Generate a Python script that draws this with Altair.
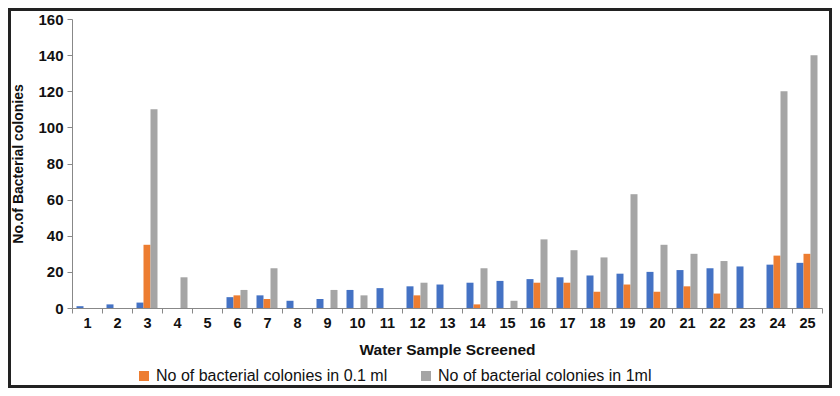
import altair as alt
import pandas as pd

samples = [str(i) for i in range(1, 26)]
series = ["Water Sample", "No of bacterial colonies in 0.1 ml", "No of bacterial colonies in 1ml"]
colors = ["#4472C4", "#ED7D31", "#A5A5A5"]

blue = [1, 2, 3, 0, 0, 6, 7, 4, 5, 10, 11, 12, 13, 14, 15, 16, 17, 18, 19, 20, 21, 22, 23, 24, 25]
orange = [0, 0, 35, 0, 0, 7, 5, 0, 0, 0, 0, 7, 0, 2, 0, 14, 14, 9, 13, 9, 12, 8, 0, 29, 30]
gray = [0, 0, 110, 17, 0, 10, 22, 0, 10, 7, 0, 14, 0, 22, 4, 38, 32, 28, 63, 35, 30, 26, 0, 120, 140]
y_ticks = [0, 20, 40, 60, 80, 100, 120, 140, 160]

rows = []
for name, vals in zip(series, [blue, orange, gray]):
    for s, v in zip(samples, vals):
        rows.append({"sample": s, "series": name, "value": v})
df = pd.DataFrame(rows)

FONT = "Liberation Sans, Arial, sans-serif"

bars = alt.Chart(df).mark_bar().encode(
    x=alt.X(
        "sample:N",
        sort=samples,
        scale=alt.Scale(paddingInner=0, paddingOuter=0),
        axis=alt.Axis(
            title="Water Sample Screened",
            tickBand="extent",
            labelAngle=0,
            labelFont=FONT,
            labelFontSize=14.5,
            labelFontWeight="bold",
            labelColor="#111",
            labelPadding=3,
            tickSize=5,
            tickColor="#888",
            domainColor="#888",
            titleFont=FONT,
            titleFontSize=15.5,
            titleFontWeight="bold",
            titleColor="#111",
            titleY=41,
            titleBaseline="middle",
        ),
    ),
    xOffset=alt.XOffset(
        "series:N",
        sort=series,
        scale=alt.Scale(paddingInner=0, paddingOuter=0.643),
    ),
    y=alt.Y(
        "value:Q",
        scale=alt.Scale(domain=[0, 160]),
        axis=alt.Axis(
            title="No.of Bacterial colonies",
            values=y_ticks,
            grid=False,
            labelFont=FONT,
            labelFontSize=15,
            labelFontWeight="bold",
            labelColor="#111",
            labelPadding=4,
            tickSize=5,
            tickColor="#888",
            domainColor="#888",
            titleFont=FONT,
            titleFontSize=14,
            titleFontWeight="bold",
            titleColor="#111",
            titleX=-54,
            titleY=144.5,
            titleBaseline="middle",
        ),
    ),
    color=alt.Color(
        "series:N",
        sort=series,
        scale=alt.Scale(domain=series, range=colors),
        legend=alt.Legend(
            title=None,
            values=series[1:],
            orient="none",
            legendX=64,
            legendY=349,
            direction="horizontal",
            symbolType="square",
            symbolSize=100,
            symbolStrokeWidth=0,
            labelFont=FONT,
            labelFontSize=16,
            labelColor="#111",
            labelOffset=4,
            labelLimit=400,
            columnPadding=30,
        ),
    ),
)

frame = alt.Chart(pd.DataFrame({"k": [0]})).mark_rect(
    fill="transparent", stroke="#222", strokeWidth=3
).encode(
    x=alt.value(-62.5), x2=alt.value(758.5), y=alt.value(-9.5), y2=alt.value(367.5)
)

chart = alt.layer(bars, frame).properties(
    width=750,
    height=289,
    padding={"left": 64, "top": 11, "right": 10, "bottom": 80},
    autosize=alt.AutoSizeParams(type="none"),
).configure_view(stroke=None)

chart.save("out.html", embed_options={"renderer": "svg", "actions": False})
